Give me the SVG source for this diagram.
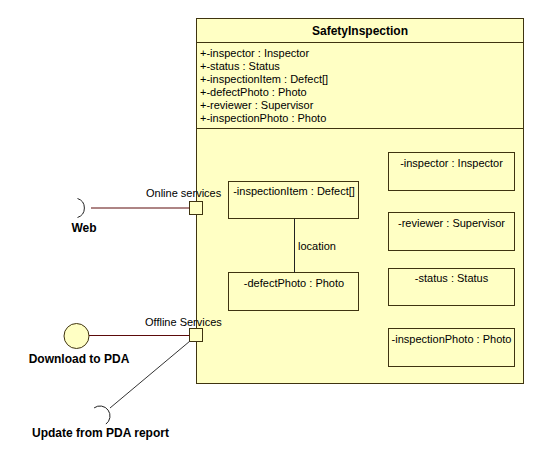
<svg xmlns="http://www.w3.org/2000/svg" width="545" height="468" viewBox="0 0 545 468">
<style>
text{font-family:"Liberation Sans",Arial,sans-serif;font-size:11px;fill:#000}
.b{font-weight:bold;font-size:12px}
.m{text-anchor:middle}
.box{fill:#FFFFC4;stroke:#3f3410;stroke-width:1}
.inner{fill:none;stroke:#3f3410;stroke-width:1}
.ln{fill:none;stroke:#5c0a0a;stroke-width:1}
</style>
<rect width="545" height="468" fill="#fff"/>
<g id="SafetyInspection">
<rect class="box" x="196.5" y="18.5" width="327" height="365"/>
<line class="inner" x1="196.5" y1="42.5" x2="523.5" y2="42.5"/>
<line class="inner" x1="196.5" y1="128.5" x2="523.5" y2="128.5"/>
<text class="b m" x="360" y="35">SafetyInspection</text>
<text x="200" y="57">+-inspector : Inspector</text>
<text x="200" y="70">+-status : Status</text>
<text x="200" y="83">+-inspectionItem : Defect[]</text>
<text x="200" y="96">+-defectPhoto : Photo</text>
<text x="200" y="109">+-reviewer : Supervisor</text>
<text x="200" y="122">+-inspectionPhoto : Photo</text>
</g>
<g id="part-inspectionItem">
<rect class="inner" x="228.5" y="181.5" width="130" height="37"/>
<text class="m" x="294" y="195">-inspectionItem : Defect[]</text>
</g>
<g id="part-defectPhoto">
<rect class="inner" x="228.5" y="272.5" width="130" height="38"/>
<text class="m" x="294" y="287">-defectPhoto : Photo</text>
</g>
<g id="part-inspector">
<rect class="inner" x="388.5" y="152.5" width="126" height="38"/>
<text class="m" x="451.5" y="167">-inspector : Inspector</text>
</g>
<g id="part-reviewer">
<rect class="inner" x="388.5" y="212.5" width="126" height="38"/>
<text class="m" x="451.5" y="227">-reviewer : Supervisor</text>
</g>
<g id="part-status">
<rect class="inner" x="388.5" y="268.5" width="126" height="37"/>
<text class="m" x="451.5" y="282">-status : Status</text>
</g>
<g id="part-inspectionPhoto">
<rect class="inner" x="388.5" y="328.5" width="126" height="38"/>
<text class="m" x="451.5" y="343">-inspectionPhoto : Photo</text>
</g>
<g id="port-online">
<rect class="box" x="189.5" y="201.5" width="13" height="13"/>
<text x="146" y="197">Online services</text>
</g>
<g id="port-offline">
<rect class="box" x="189.5" y="328.5" width="13" height="13"/>
<text x="145" y="326">Offline Services</text>
</g>
<g id="Web">
<path d="M77.5,198.5 A10,10 0 0 1 77.5,217.5" fill="none" stroke="#222" stroke-width="1"/>
<text class="b m" x="84" y="232">Web</text>
</g>
<g id="DownloadToPDA">
<circle cx="76.5" cy="336" r="12.5" fill="#FFFFC4" stroke="#3f3410" stroke-width="1"/>
<text class="b m" x="79" y="363">Download to PDA</text>
</g>
<g id="UpdateFromPDAReport">
<path d="M94.1,407.9 A10,10 0 0 1 105.9,424.1" fill="none" stroke="#222" stroke-width="1"/>
<text class="b m" x="100.5" y="437">Update from PDA report</text>
</g>
<g id="connectors">
<line class="ln" x1="91" y1="208" x2="189.5" y2="208"/>
<line class="ln" x1="89" y1="335.5" x2="189.5" y2="335.5"/>
<line x1="110" y1="408" x2="190" y2="341" stroke="#333" stroke-width="1"/>
<line x1="294.5" y1="218.5" x2="294.5" y2="272.5" stroke="#222" stroke-width="1"/>
<text x="298" y="250">location</text>
</g>
</svg>
